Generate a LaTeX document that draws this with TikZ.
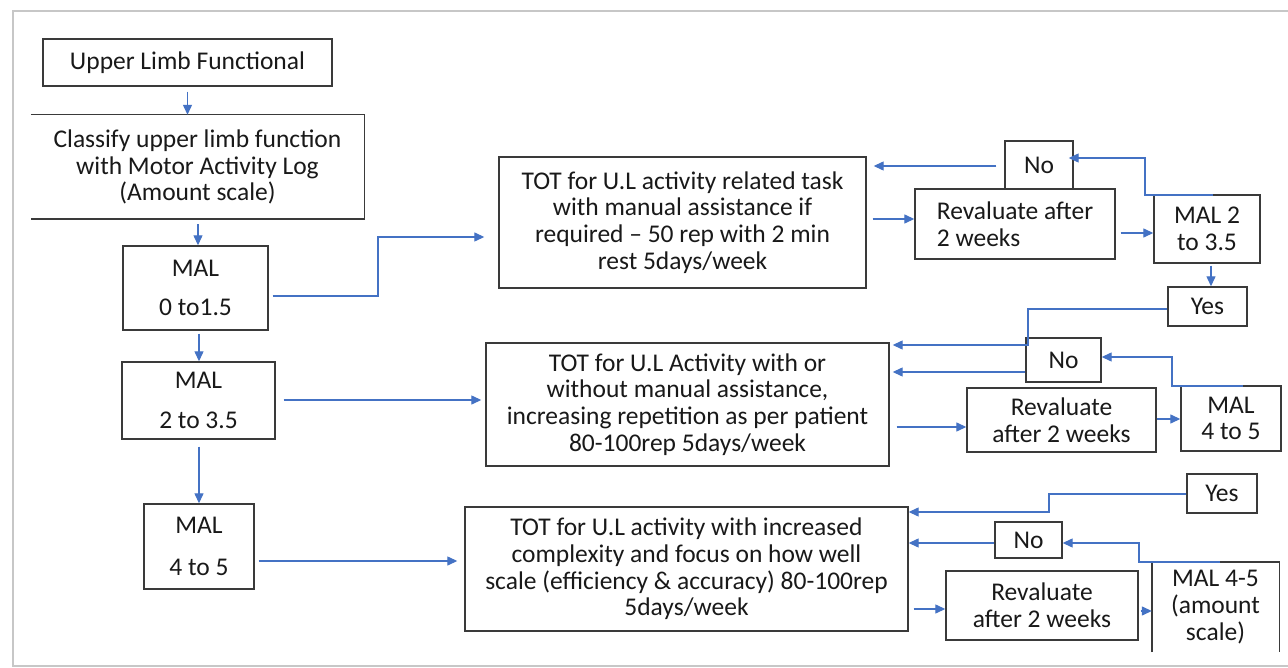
\documentclass[tikz,border=0pt]{standalone}
\usepackage{fontspec}
\setmainfont{Carlito}
\usetikzlibrary{arrows.meta}
\definecolor{arrblue}{HTML}{4472C4}
\definecolor{boxline}{HTML}{3A3A3A}
\tikzset{
  box/.style={draw=boxline, line width=1.4pt, inner sep=0pt, align=center, text=black!90},
  openbox/.style={draw=none, inner sep=0pt, align=center, text=black!90},
  arr/.style={draw=arrblue, line width=1.3pt, -{Triangle[length=10pt,width=9pt]}},
  frame/.style={draw=black!22, line width=2pt}
}
\begin{document}
\begin{tikzpicture}[x=1pt,y=-1pt,font=\fontsize{25.5}{26.7}\selectfont]
\useasboundingbox (0,0) rectangle (1288,668);
\fill[white] (0,0) rectangle (1288,668);
\draw[frame] (1288,11) -- (13,11) -- (13,666) -- (1288,666);

% left column
\node[box, minimum width=289pt, minimum height=47pt] (up) at (187.5,62.5) {Upper Limb Functional};
\node[openbox, minimum width=333pt, minimum height=104pt] (cls) at (197.5,167)
  {Classify upper limb function\\with Motor Activity Log\\(Amount scale)};
\draw[boxline, line width=1.4pt] (cls.north west) -- (cls.north east) -- (cls.south east) -- (cls.south west);
\node[box, minimum width=145pt, minimum height=84pt] (m1) at (195.5,288) {MAL\\[13pt]0 to1.5};
\node[box, minimum width=153pt, minimum height=77pt] (m2) at (198.5,400.5) {MAL\\[14pt]2 to 3.5};
\node[box, minimum width=110pt, minimum height=85pt] (m3) at (199,546.5) {MAL\\[16pt]4 to 5};

% treatment boxes
\node[box, minimum width=367pt, minimum height=131pt] (t1) at (682.5,222.5)
  {TOT for U.L activity related task\\with manual assistance if\\required -- 50 rep with 2 min\\rest 5days/week};
\node[box, minimum width=403pt, minimum height=123pt] (t2) at (687.5,404.5)
  {TOT for U.L Activity with or\\without manual assistance,\\increasing repetition as per patient\\80-100rep 5days/week};
\node[box, minimum width=443pt, minimum height=124pt] (t3) at (686.5,569)
  {TOT for U.L activity with increased\\complexity and focus on how well\\scale (efficiency \& accuracy) 80-100rep\\5days/week};

% right top
\node[box, minimum width=68pt, minimum height=48pt] (no1) at (1039,165) {No};
\node[box, minimum width=200pt, minimum height=70pt, align=left] (r1) at (1015,224) {Revaluate after\\2 weeks};
\node[box, minimum width=106pt, minimum height=68pt] (ma1) at (1207,229) {MAL 2\\to 3.5};
\node[box, minimum width=79pt, minimum height=39pt] (yes1) at (1207.5,306.5) {Yes};

% right middle
\node[box, minimum width=75pt, minimum height=44pt] (no2) at (1063.5,360) {No};
\node[box, minimum width=189pt, minimum height=64pt] (r2) at (1061.5,420) {Revaluate\\after 2 weeks};
\node[box, minimum width=100pt, minimum height=65pt] (ma2) at (1231,418.5) {MAL\\4 to 5};

% right bottom
\node[box, minimum width=70pt, minimum height=39pt] (yes3) at (1222,493.5) {Yes};
\node[box, minimum width=67pt, minimum height=36pt] (no3) at (1028.5,540) {No};
\node[box, minimum width=192pt, minimum height=69pt] (r3) at (1042,605.5) {Revaluate\\after 2 weeks};
\node[openbox, minimum width=127pt, minimum height=90pt] (ma3) at (1215.5,607) {MAL 4-5\\(amount\\scale)};
\draw[boxline, line width=1.4pt] (ma3.south west) -- (ma3.north west) -- (ma3.north east) -- (ma3.south east);

% left column arrows
\draw[arr, shorten <=5pt] (up.south) -- (cls.north -| up.south);
\draw[arr, shorten <=5pt] (cls.south -| 198,0) -- (m1.north -| 198,0);
\draw[arr, shorten <=3pt] (m1.south -| 199,0) -- (m2.north -| 199,0);
\draw[arr, shorten <=7pt] (m2.south -| 199,0) -- (m3.north -| 199,0);

% left to treatment
\draw[arr, shorten <=4pt, shorten >=14pt] (m1.east |- 0,296) -- (378,296) -- (378,237) -- (t1.west |- 0,237);
\draw[arr, shorten <=8pt, shorten >=4pt] (m2.east |- 0,400) -- (t2.west |- 0,400);
\draw[arr, shorten <=4pt, shorten >=7pt] (m3.east |- 0,561) -- (t3.west |- 0,561);

% top loop
\draw[arr, shorten <=6pt] (t1.east |- 0,219) -- (r1.west |- 0,219);
\draw[arr, shorten <=5pt] (r1.east |- 0,233) -- (ma1.west |- 0,233);
\draw[arr, shorten >=-5pt] (1213,195) -- (1145,195) -- (1145,158) -- (no1.east |- 0,158);
\draw[arr, shorten <=8pt, shorten >=7pt] (no1.west |- 0,166) -- (t1.east |- 0,166);
\draw[arr, shorten <=2pt] (ma1.south -| 1211,0) -- (yes1.north -| 1211,0);
\draw[arr, shorten >=3pt] (yes1.west |- 0,309) -- (1028,309) -- (1028,345) -- (t2.east |- 0,345);

% middle loop
\draw[arr, shorten >=3pt] (no2.west |- 0,372) -- (t2.east |- 0,372);
\draw[arr, shorten <=7pt] (t2.east |- 0,427) -- (r2.west |- 0,427);
\draw[arr] (r2.east |- 0,419) -- (ma2.west |- 0,419);
\draw[arr] (1243,386) -- (1172,386) -- (1172,357) -- (no2.east |- 0,357);

% bottom loop
\draw[arr] (yes3.west |- 0,494) -- (1049,494) -- (1049,512) -- (t3.east |- 0,512);
\draw[arr] (no3.west |- 0,543) -- (t3.east |- 0,543);
\draw[arr, shorten <=5pt] (t3.east |- 0,609) -- (r3.west |- 0,609);
\draw[arr, shorten <=2pt] (r3.east |- 0,611) -- (ma3.west |- 0,611);
\draw[arr] (1220,562) -- (1139,562) -- (1139,543) -- (no3.east |- 0,543);
\end{tikzpicture}
\end{document}
